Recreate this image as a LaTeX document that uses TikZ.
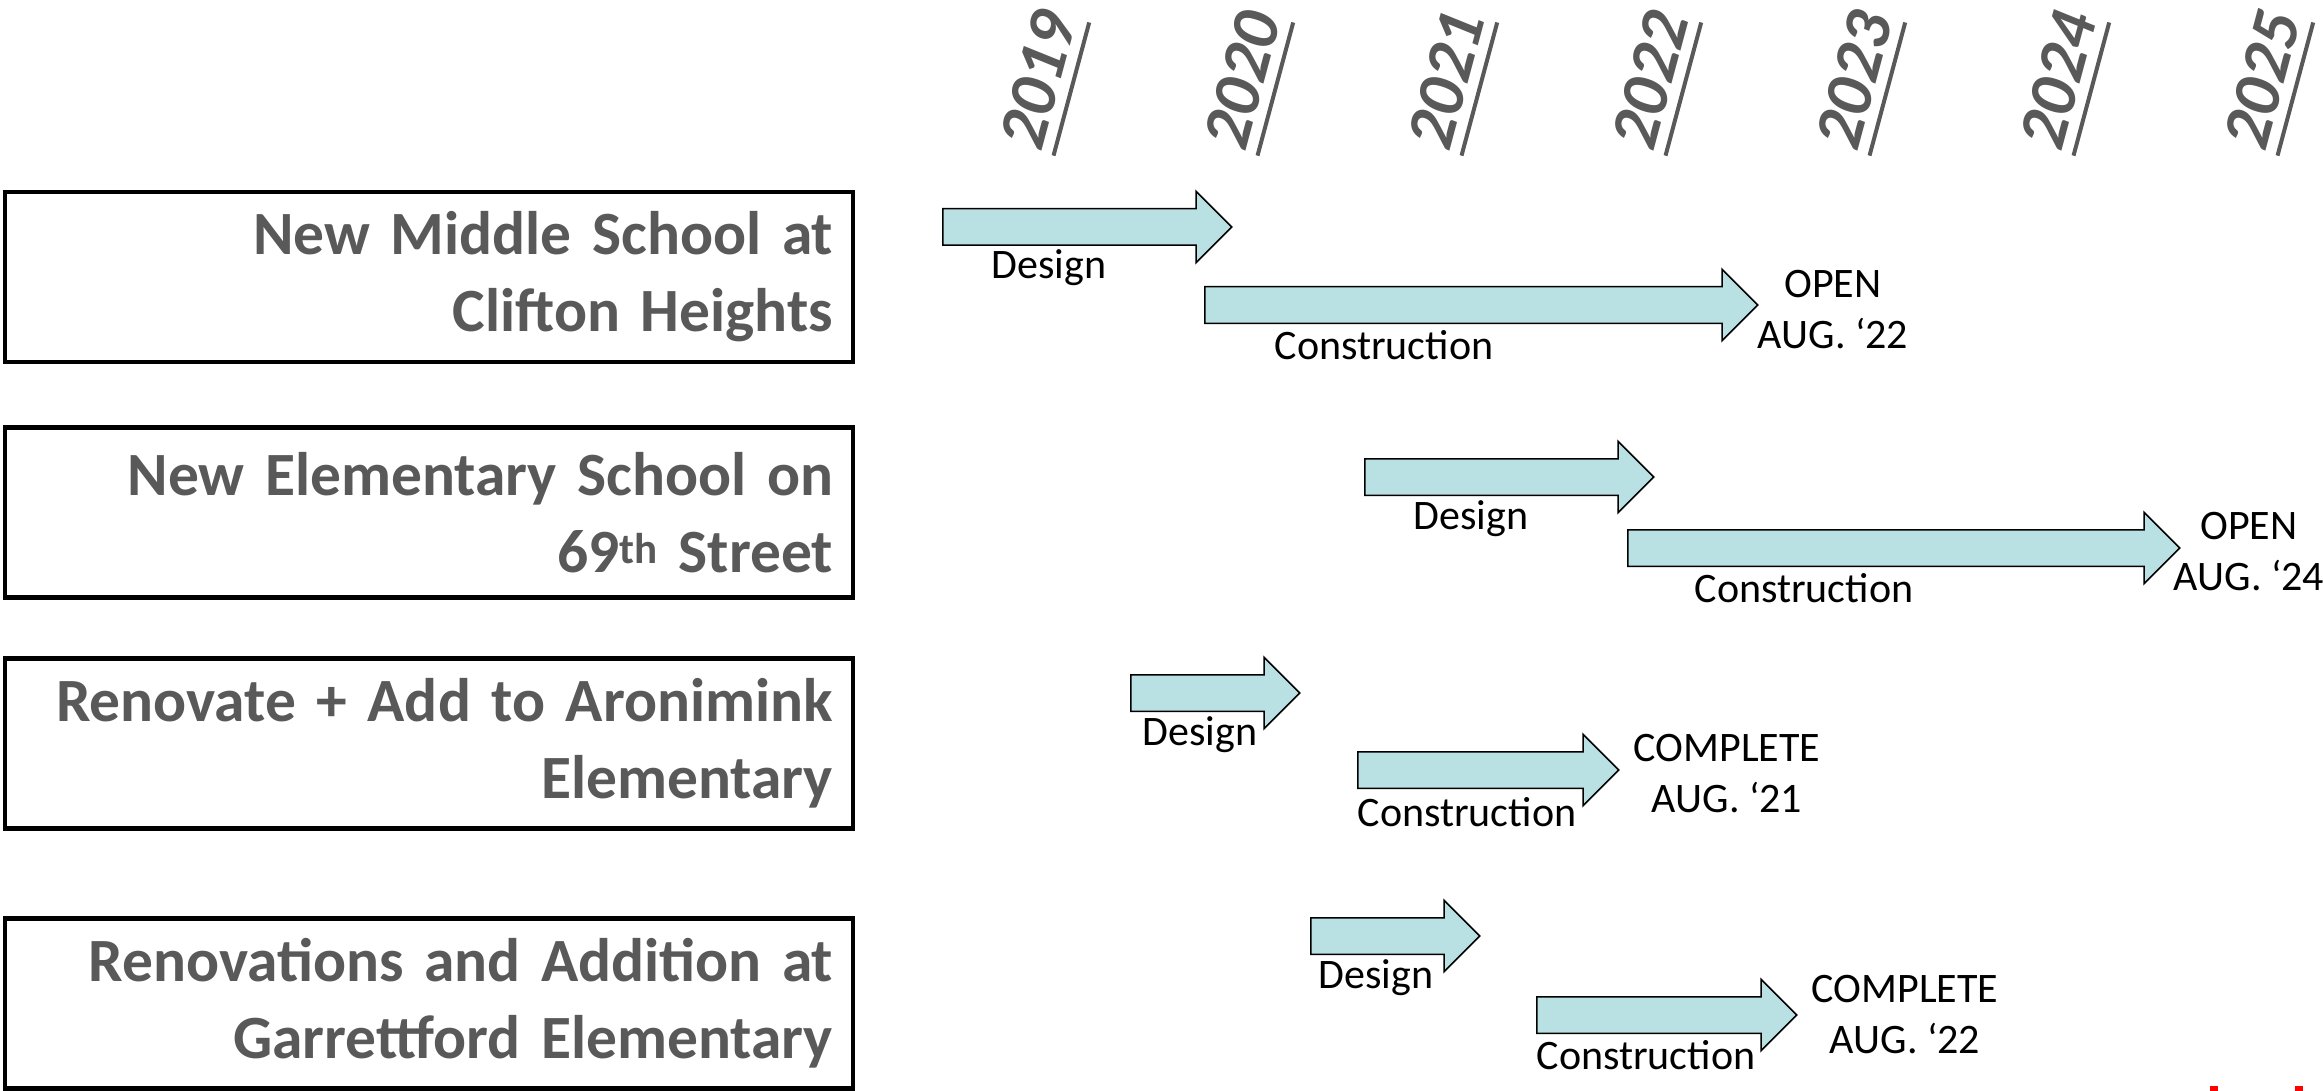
\documentclass[tikz,border=0pt]{standalone}
\usepackage{fontspec}
\setmainfont{Carlito}
\usetikzlibrary{shapes.arrows}

\definecolor{schoolgray}{HTML}{595959}
\definecolor{phasefill}{HTML}{B9E0E3}

% underlined year, with a thicker rule set a little below the digits
\newcommand\yearline[1]{\setbox0\hbox{#1}\rlap{\rule[-14pt]{\wd0}{4pt}}\box0}

\begin{document}
\begin{tikzpicture}[
    x=1pt, y=-1pt,
    schoolbox/.style={rectangle, draw=black, line width=4.5pt, minimum width=848pt, minimum height=170pt, text width=808pt, align=right, inner sep=0pt, text=schoolgray, font=\fontsize{61.5}{77}\selectfont\bfseries},
    yearlabel/.style={rotate=75, inner sep=0pt, text=schoolgray, font=\fontsize{68}{80}\selectfont\bfseries\itshape},
    phasearrow/.style={single arrow, anchor=tail, draw=black, line width=1.5pt, fill=phasefill, text height=35pt, text depth=0pt, single arrow head extend=17.5pt, inner sep=0pt},
    phaselabel/.style={inner sep=0pt, font=\fontsize{42}{50}\selectfont},
    milestone/.style={inner sep=0pt, align=center, font=\fontsize{42}{51}\selectfont}
]
    \useasboundingbox (0,0) rectangle (2323,1091);

    % years along the top
    \foreach \yr [count=\i from 0] in {2019,2020,...,2025}
        \node (y\yr) [yearlabel] at ({1045+204*\i},82) {\yearline{\yr}};

    % projects
    \node (ms) [schoolbox] at (429,277) {New Middle School at\\Clifton Heights};
    \node (es) [schoolbox] at (429,512.5) {New Elementary School on\\69\textsuperscript{th} Street};
    \node (ar) [schoolbox] at (429,743.5) {Renovate + Add to Aronimink\\Elementary};
    \node (gf) [schoolbox] at (429,1003.5) {Renovations and Addition at\\Garrettford Elementary};

    % Clifton Heights
    \node (d1) [phasearrow, minimum height=289pt] at (942,227) {};
    \node (d1l) [phaselabel] at (1049,268) {Design};
    \node (c1) [phasearrow, minimum height=553pt] at (1204,305) {};
    \node (c1l) [phaselabel] at (1384,345) {Construction};
    \node (m1) [milestone] at (1833,310) {OPEN\\AUG. ‘22};

    % 69th Street
    \node (d2) [phasearrow, minimum height=289pt] at (1364,477) {};
    \node (d2l) [phaselabel] at (1471,519) {Design};
    \node (c2) [phasearrow, minimum height=552pt] at (1627,548) {};
    \node (c2l) [phaselabel] at (1804,588) {Construction};
    \node (m2) [milestone] at (2249,552) {OPEN\\AUG. ‘24};

    % Aronimink
    \node (d3) [phasearrow, minimum height=169pt] at (1130,693) {};
    \node (d3l) [phaselabel] at (1200,735) {Design};
    \node (c3) [phasearrow, minimum height=261pt] at (1357,770) {};
    \node (c3l) [phaselabel] at (1467,812) {Construction};
    \node (m3) [milestone] at (1727,773.5) {COMPLETE\\AUG. ‘21};

    % Garrettford
    \node (d4) [phasearrow, minimum height=169pt] at (1310,936) {};
    \node (d4l) [phaselabel] at (1376,978) {Design};
    \node (c4) [phasearrow, minimum height=260pt] at (1536,1015) {};
    \node (c4l) [phaselabel] at (1646,1055) {Construction};
    \node (m4) [milestone] at (1905,1015) {COMPLETE\\AUG. ‘22};

    \fill[red] (2210,1086) rectangle (2218,1091);
    \fill[red] (2295,1086) rectangle (2303,1091);
\end{tikzpicture}
\end{document}
